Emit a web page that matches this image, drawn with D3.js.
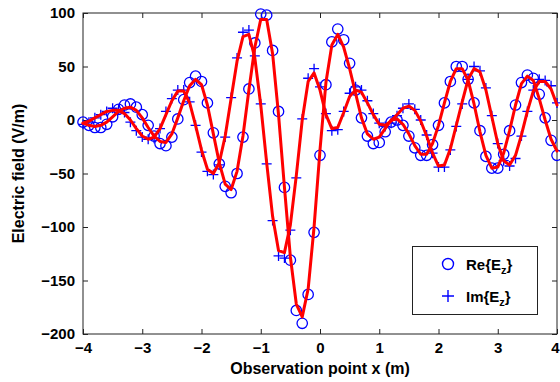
<!DOCTYPE html>
<html><head><meta charset="utf-8">
<script src="https://cdn.jsdelivr.net/npm/d3@7"></script>
<style>
html,body{margin:0;padding:0;background:#fff;}
svg{display:block;}
text{font-family:"Liberation Sans",Arial,Helvetica,sans-serif;font-weight:bold;fill:#000;}
</style>
</head><body>
<svg id="chart" width="560" height="382"></svg>
<script>
const xPoints = [-4.0,-3.9,-3.8,-3.7,-3.6,-3.5,-3.4,-3.3,-3.2,-3.1,-3.0,-2.9,-2.8,-2.7,-2.6,-2.5,-2.4,-2.3,-2.2,-2.1,
  -2.0,-1.9,-1.8,-1.7,-1.6,-1.5,-1.4,-1.3,-1.2,-1.1,-1.0,-0.9,-0.8,-0.7,-0.6,-0.5,-0.4,-0.3,-0.2,-0.1,
  0.0,0.1,0.2,0.3,0.4,0.5,0.6,0.7,0.8,0.9,1.0,1.1,1.2,1.3,1.4,1.5,1.6,1.7,1.8,1.9,
  2.0,2.1,2.2,2.3,2.4,2.5,2.6,2.7,2.8,2.9,3.0,3.1,3.2,3.3,3.4,3.5,3.6,3.7,3.8,3.9,4.0];

const reLine = [-3,-5,-6,-5,-2,3,8,11,12,9,2,-7,-15,-20,-21,-13,2,18,32,38,
  33,14,-13,-40,-60,-65,-48,-15,28,68,94,94,62,5,-63,-128,-172,-184,-158,-100,
  -28,35,70,80,68,48,25,2,-13,-18,-16,-8,0,1,-4,-13,-24,-32,-32,-22,
  -5,16,36,48,48,37,15,-11,-33,-45,-44,-31,-10,14,34,41,37,20,0,-18,-29];

const imLine = [-3,-1,2,5,8,9,9,6,0,-8,-15,-18,-16,-8,5,18,27,27,16,-5,
  -28,-46,-50,-40,-15,20,55,78,80,58,14,-40,-90,-122,-124,-98,-52,0,36,44,
  28,5,-8,-7,7,22,28,26,16,5,-4,-5,-1,5,11,13,9,-1,-15,-31,
  -43,-42,-27,-5,17,38,48,45,28,3,-22,-38,-42,-33,-14,8,27,36,36,29,14];

const reMarkers = [-2,-5,-7,-7,-4,3,10,14,15,12,5,-5,-15,-22,-24,-16,1,19,35,41,
  36,16,-12,-41,-62,-68,-50,-16,29,72,99,98,65,8,-63,-131,-178,-190,-163,-105,
  -33,33,73,85,75,53,28,2,-15,-22,-21,-11,-2,0,-5,-15,-26,-33,-33,-23,
  -5,16,36,50,50,38,16,-10,-34,-45,-45,-32,-10,14,35,42,39,24,2,-19,-33];

const imMarkers = [-4,-2,2,5,8,11,10,7,-2,-10,-16,-18,-17,-8,8,20,28,28,17,-5,
  -30,-48,-51,-42,-16,21,58,82,84,60,15,-41,-94,-127,-129,-103,-54,1,39,48,
  31,6,-10,-9,8,25,31,28,18,6,-3,-6,-3,4,11,15,10,0,-14,-31,
  -44,-44,-28,-6,15,38,50,46,30,4,-22,-38,-43,-36,-15,8,28,38,37,32,16];

const xTicks = [-4,-3,-2,-1,0,1,2,3,4];
const yTicks = [-200,-150,-100,-50,0,50,100];
const xLabel = "Observation point x (m)";
const yLabel = "Electric field (V/m)";
const legendNames = ["Re", "Im"];

const svg = d3.select("#chart");
const L = 83, R = 557, T = 13, B = 334;
const x = d3.scaleLinear().domain([-4, 4]).range([L, R]);
const y = d3.scaleLinear().domain([-200, 100]).range([B, T]);
const BLUE = "#0000ff", RED = "#ff0000";

// frame
svg.append("rect").attr("x", L).attr("y", T).attr("width", R - L).attr("height", B - T)
  .attr("fill", "none").attr("stroke", "#222").attr("stroke-width", 1);

function styleAxis(g, showLabels) {
  g.select(".domain").remove();
  g.selectAll(".tick line").attr("stroke", "#222");
  g.selectAll(".tick text").attr("font-size", 15).attr("fill", "#000")
    .attr("font-family", "'Liberation Sans',Arial,sans-serif").attr("font-weight", "bold");
  if (!showLabels) g.selectAll(".tick text").remove();
}
svg.append("g").attr("transform", `translate(0,${B})`)
  .call(d3.axisBottom(x).tickValues(xTicks).tickSizeInner(-5).tickSizeOuter(0).tickPadding(8).tickFormat(d3.format("d")))
  .call(g => styleAxis(g, true))
  .call(g => g.selectAll(".tick text").filter(d => d === 4).attr("dx", -2));
svg.append("g").attr("transform", `translate(0,${T})`)
  .call(d3.axisTop(x).tickValues(xTicks).tickSizeInner(-5).tickSizeOuter(0))
  .call(g => styleAxis(g, false));
svg.append("g").attr("transform", `translate(${L},0)`)
  .call(d3.axisLeft(y).tickValues(yTicks).tickSizeInner(-5).tickSizeOuter(0).tickPadding(8).tickFormat(d3.format("d")))
  .call(g => styleAxis(g, true));
svg.append("g").attr("transform", `translate(${R},0)`)
  .call(d3.axisRight(y).tickValues(yTicks).tickSizeInner(-5).tickSizeOuter(0))
  .call(g => styleAxis(g, false));

// axis labels
svg.append("text").attr("x", (L + R) / 2).attr("y", 374).attr("text-anchor", "middle")
  .attr("font-size", 16).text(xLabel);
svg.append("text").attr("transform", `translate(24,${(T + B) / 2}) rotate(-90)`)
  .attr("text-anchor", "middle").attr("font-size", 16).text(yLabel);

// markers
const reData = xPoints.map((v, i) => [v, reMarkers[i]]);
const imData = xPoints.map((v, i) => [v, imMarkers[i]]);
const P = 5;
svg.append("g").selectAll("circle").data(reData).join("circle")
  .attr("cx", d => x(d[0])).attr("cy", d => y(d[1])).attr("r", 5.2)
  .attr("fill", "none").attr("stroke", BLUE).attr("stroke-width", 1.3);
svg.append("g").selectAll("path").data(imData).join("path")
  .attr("d", d => `M${x(d[0]) - P},${y(d[1])}H${x(d[0]) + P}M${x(d[0])},${y(d[1]) - P}V${y(d[1]) + P}`)
  .attr("fill", "none").attr("stroke", BLUE).attr("stroke-width", 1.3);

// lines
const line = d3.line().x(d => x(d[0])).y(d => y(d[1]));
[reLine, imLine].forEach(arr => {
  svg.append("path").datum(xPoints.map((v, i) => [v, arr[i]]))
    .attr("d", line).attr("fill", "none").attr("stroke", RED)
    .attr("stroke-width", 3).attr("stroke-linejoin", "round").attr("stroke-linecap", "round");
});

// legend
const lg = svg.append("g");
lg.append("rect").attr("x", 412.5).attr("y", 246.5).attr("width", 125).attr("height", 68)
  .attr("fill", "#fff").attr("stroke", "#222").attr("stroke-width", 1);
const ly = [264, 296];
lg.append("circle").attr("cx", 448).attr("cy", ly[0]).attr("r", 5.5)
  .attr("fill", "none").attr("stroke", BLUE).attr("stroke-width", 1.4);
lg.append("path").attr("d", `M${448 - 6},${ly[1]}H${448 + 6}M448,${ly[1] - 6}V${ly[1] + 6}`)
  .attr("stroke", BLUE).attr("stroke-width", 1.4);
legendNames.forEach((n, i) => {
  const t = lg.append("text").attr("x", 466).attr("y", ly[i] + 6).attr("font-size", 15);
  t.append("tspan").text(n + "{E");
  t.append("tspan").attr("font-size", 11).attr("dy", 4).text("z");
  t.append("tspan").attr("dy", -4).text("}");
});
</script>
</body></html>
